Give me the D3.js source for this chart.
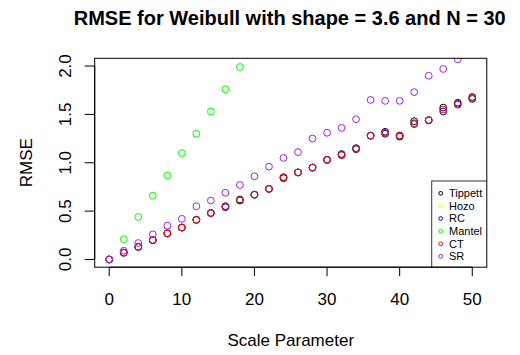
<!DOCTYPE html>
<html>
<head>
<meta charset="utf-8">
<script src="https://cdn.jsdelivr.net/npm/d3@7"></script>
<style>
  body { margin: 0; background: #fff; }
  text { font-family: "Liberation Sans", Arial, sans-serif; fill: #000; }
</style>
</head>
<body>
<svg id="chart" width="520" height="355"></svg>
<script>
// Scale parameter values (x axis)
var scales = [0, 2, 4, 6, 8, 10, 12, 14, 16, 18, 20, 22, 24, 26, 28, 30, 32, 34, 36, 38, 40, 42, 44, 46, 48, 50];

// RMSE per method (null = off the plot)
var tippett = [0, 0.07, 0.13, 0.20, 0.27, 0.33, 0.41, 0.48, 0.55, 0.62, 0.67, 0.73, 0.85, 0.90, 0.95, 1.03, 1.09, 1.15, 1.28, 1.32, 1.28, 1.43, 1.44, 1.57, 1.62, 1.68];
var hozo = [0, 0.07, 0.13, 0.20, 0.27, 0.33, 0.41, 0.48, 0.54, 0.61, 0.67, 0.73, 0.84, 0.90, 0.95, 1.03, 1.08, 1.14, 1.28, 1.30, 1.27, 1.40, 1.44, 1.53, 1.61, 1.66];
var rc = [0, 0.07, 0.13, 0.20, 0.27, 0.33, 0.41, 0.48, 0.54, 0.61, 0.67, 0.73, 0.84, 0.90, 0.95, 1.03, 1.08, 1.14, 1.28, 1.30, 1.27, 1.40, 1.44, 1.53, 1.61, 1.66];
var mantel = [0, 0.21, 0.44, 0.66, 0.87, 1.10, 1.30, 1.53, 1.76, 1.99, null, null, null, null, null, null, null, null, null, null, null, null, null, null, null, null];
var ct = [0, 0.07, 0.13, 0.20, 0.27, 0.33, 0.41, 0.48, 0.55, 0.61, 0.67, 0.73, 0.85, 0.90, 0.95, 1.03, 1.08, 1.15, 1.28, 1.31, 1.28, 1.41, 1.44, 1.55, 1.60, 1.67];
var sr = [0, 0.09, 0.17, 0.26, 0.35, 0.42, 0.55, 0.61, 0.69, 0.77, 0.86, 0.96, 1.05, 1.11, 1.25, 1.31, 1.36, 1.45, 1.65, 1.64, 1.64, 1.73, 1.90, 1.97, 2.07, null];

var methods = ["Tippett", "Hozo", "RC", "Mantel", "CT", "SR"];
var colors = ["#000000", "#ffff00", "#0000ff", "#00ff00", "#ff0000", "#a020f0"];
var series = [tippett, hozo, rc, mantel, ct, sr];

var xTicks = [0, 10, 20, 30, 40, 50];
var yTicks = [0, 0.5, 1, 1.5, 2];

var svg = d3.select("#chart");

// Plot box (R style, axis range padded 4%)
var boxL = 94.7, boxR = 486.8, boxT = 58.3, boxB = 267.2;

var x = d3.scaleLinear().domain([-2, 52]).range([boxL, boxR]);
var y = d3.scaleLinear().domain([-0.08, 2.08]).range([boxB, boxT]);

svg.append("clipPath").attr("id", "plotClip")
  .append("rect")
  .attr("x", boxL).attr("y", boxT)
  .attr("width", boxR - boxL).attr("height", boxB - boxT);

// Draw the points of each method, in legend order
var pts = svg.append("g").attr("clip-path", "url(#plotClip)");
series.forEach(function(vals, k) {
  pts.selectAll(null)
    .data(scales.map(function(s, i) { return { s: s, v: vals[i] }; })
      .filter(function(d) { return d.v !== null; }))
    .enter()
    .append("circle")
    .attr("cx", function(d) { return x(d.s); })
    .attr("cy", function(d) { return y(d.v); })
    .attr("r", 3.4)
    .attr("fill", "none")
    .attr("stroke", colors[k])
    .attr("stroke-width", 1);
});

// Legend, cut by the plot box like the original
var leg = svg.append("g").attr("clip-path", "url(#plotClip)");
var legTop = 181;
leg.append("rect")
  .attr("x", 431.7).attr("y", legTop)
  .attr("width", 80).attr("height", boxB - legTop + 5)
  .attr("fill", "#fff")
  .attr("stroke", "#333")
  .attr("stroke-width", 1);
methods.forEach(function(m, k) {
  var yy = 193.3 + k * 12.6;
  leg.append("circle")
    .attr("cx", 440.7).attr("cy", yy).attr("r", 1.9)
    .attr("fill", "none").attr("stroke", colors[k]).attr("stroke-width", 1);
  leg.append("text")
    .attr("x", 449).attr("y", yy + 3.8)
    .attr("font-size", "11px")
    .text(m);
});

// Box
svg.append("rect")
  .attr("x", boxL).attr("y", boxT)
  .attr("width", boxR - boxL).attr("height", boxB - boxT)
  .attr("fill", "none").attr("stroke", "#000").attr("stroke-width", 1);

// X axis
var xa = svg.append("g").attr("transform", "translate(0," + boxB + ")");
xa.append("line")
  .attr("x1", x(xTicks[0])).attr("x2", x(xTicks[xTicks.length - 1]))
  .attr("stroke", "#000");
xa.selectAll("line.tick").data(xTicks).enter().append("line")
  .attr("class", "tick")
  .attr("x1", function(d) { return x(d); }).attr("x2", function(d) { return x(d); })
  .attr("y1", 0).attr("y2", 9)
  .attr("stroke", "#000");
xa.selectAll("text").data(xTicks).enter().append("text")
  .attr("x", function(d) { return x(d); })
  .attr("y", 38)
  .attr("text-anchor", "middle")
  .attr("font-size", "17px")
  .text(function(d) { return d; });

// Y axis
var ya = svg.append("g").attr("transform", "translate(" + boxL + ",0)");
ya.append("line")
  .attr("y1", y(yTicks[0])).attr("y2", y(yTicks[yTicks.length - 1]))
  .attr("stroke", "#000");
ya.selectAll("line.tick").data(yTicks).enter().append("line")
  .attr("class", "tick")
  .attr("y1", function(d) { return y(d); }).attr("y2", function(d) { return y(d); })
  .attr("x1", 0).attr("x2", -10)
  .attr("stroke", "#000");
ya.selectAll("text").data(yTicks).enter().append("text")
  .attr("transform", function(d) { return "translate(-24," + y(d) + ") rotate(-90)"; })
  .attr("text-anchor", "middle")
  .attr("font-size", "17px")
  .text(function(d) { return d3.format(".1f")(d); });

// Axis titles and main title
svg.append("text")
  .attr("x", (boxL + boxR) / 2).attr("y", 346)
  .attr("text-anchor", "middle")
  .attr("font-size", "17px")
  .text("Scale Parameter");

svg.append("text")
  .attr("transform", "translate(31.5," + (boxT + boxB) / 2 + ") rotate(-90)")
  .attr("text-anchor", "middle")
  .attr("font-size", "17px")
  .text("RMSE");

svg.append("text")
  .attr("x", (boxL + boxR) / 2 - 1).attr("y", 25)
  .attr("text-anchor", "middle")
  .attr("font-size", "20px")
  .attr("font-weight", "bold")
  .text("RMSE for Weibull with shape = 3.6 and N = 30");
</script>
</body>
</html>
